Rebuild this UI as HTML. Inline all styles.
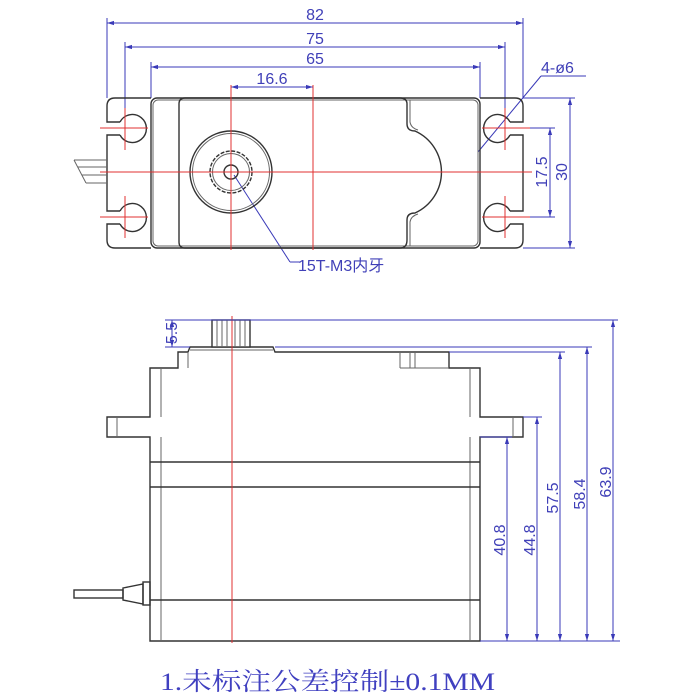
<!DOCTYPE html>
<html><head><meta charset="utf-8"><style>
html,body{margin:0;padding:0;background:#fff;width:700px;height:700px;overflow:hidden}
svg{display:block}
.k{fill:none;stroke:#333;stroke-width:1.4}
.k2{fill:none;stroke:#666;stroke-width:1}
.r{stroke:#e03030;stroke-width:1;fill:none}
.b{stroke:#3a3ab8;stroke-width:1;fill:none}
.t{fill:#4040b8;font-family:"Liberation Sans",sans-serif;font-size:16px}
</style></head><body>
<svg width="700" height="700" viewBox="0 0 700 700" xmlns="http://www.w3.org/2000/svg">
<defs>
<marker id="a" viewBox="0 0 10 10" refX="10" refY="5" markerWidth="7" markerHeight="7" orient="auto-start-reverse"><path d="M0,2 L10,5 L0,8z" fill="#3a3ab8"/></marker>
</defs>
<g class="b">
<line x1="107" y1="18" x2="107" y2="98"/><line x1="523" y1="18" x2="523" y2="98"/>
<line x1="107" y1="23" x2="523" y2="23" marker-start="url(#a)" marker-end="url(#a)"/>
<line x1="125" y1="42" x2="125" y2="115"/><line x1="505" y1="42" x2="505" y2="115"/>
<line x1="125" y1="47" x2="505" y2="47" marker-start="url(#a)" marker-end="url(#a)"/>
<line x1="151" y1="62" x2="151" y2="98"/><line x1="480" y1="62" x2="480" y2="98"/>
<line x1="151" y1="67" x2="480" y2="67" marker-start="url(#a)" marker-end="url(#a)"/>
<line x1="231" y1="87" x2="313" y2="87" marker-start="url(#a)" marker-end="url(#a)"/>
<line x1="523" y1="98" x2="575" y2="98"/><line x1="523" y1="248" x2="575" y2="248"/>
<line x1="570" y1="98" x2="570" y2="248" marker-start="url(#a)" marker-end="url(#a)"/>
<line x1="520" y1="128" x2="555" y2="128"/><line x1="520" y1="217" x2="555" y2="217"/>
<line x1="550" y1="128" x2="550" y2="217" marker-start="url(#a)" marker-end="url(#a)"/>
<line x1="541" y1="76" x2="586" y2="76"/>
<line x1="541" y1="76" x2="478" y2="152"/>
<line x1="234" y1="175" x2="290" y2="262"/><line x1="290" y1="262" x2="300" y2="262"/>
</g>
<text class="t" x="315" y="20" text-anchor="middle">82</text>
<text class="t" x="315" y="44" text-anchor="middle">75</text>
<text class="t" x="315" y="64" text-anchor="middle">65</text>
<text class="t" x="272" y="84" text-anchor="middle">16.6</text>
<text class="t" x="541" y="73">4-ø6</text>
<text class="t" x="298" y="271">15T-M3内牙</text>
<text class="t" transform="translate(547,172) rotate(-90)" text-anchor="middle">17.5</text>
<text class="t" transform="translate(567,172) rotate(-90)" text-anchor="middle">30</text>
<path class="k" d="M151,98 H115 Q107,98 107,106 V122 H120 M120,135 H107 V211 H120 M120,224 H107 V240 Q107,248 115,248 H151"/>
<path class="k" d="M120,122 A14,14 0 1 1 120,135 M120,211 A14,14 0 1 1 120,224"/>
<path class="k" d="M480,98 H515 Q523,98 523,106 V122 H510 M510,135 H523 V211 H510 M510,224 H523 V240 Q523,248 515,248 H480"/>
<path class="k" d="M510,122 A14,14 0 1 0 510,135 M510,211 A14,14 0 1 0 510,224"/>
<g class="k2"><line x1="74" y1="160" x2="107" y2="160"/><line x1="78" y1="167" x2="107" y2="167"/><line x1="82" y1="175" x2="107" y2="175"/><line x1="86" y1="183" x2="107" y2="183"/><line x1="74" y1="160" x2="86" y2="183"/></g>
<rect class="k" x="151" y="98" width="329" height="150" rx="6"/>
<rect class="k2" x="153" y="100" width="325" height="146" rx="5"/>
<path class="k" d="M185,98 Q179,98 179,104 V242 Q179,248 185,248 H400 Q407,248 407,240 V220 Q407,213 415,213 A45,45 0 0 0 415,131 Q407,131 407,124 V104 Q407,98 400,98 Z"/>
<path class="k2" d="M410,100 Q410,110 410,122 Q411,128 418,130 M410,246 Q410,236 410,222 Q411,216 418,214"/>
<circle class="k" cx="231" cy="172" r="41"/><circle class="k2" cx="231" cy="172" r="38.5"/>
<circle class="k" cx="231" cy="172" r="21" stroke-dasharray="4 1.5"/><circle class="k2" cx="231" cy="172" r="18.5"/>
<circle class="k" cx="231" cy="172" r="7"/>
<g class="r">
<line x1="100" y1="172" x2="532" y2="172"/>
<line x1="231" y1="85" x2="231" y2="250"/>
<line x1="313" y1="85" x2="313" y2="250"/>
<line x1="100" y1="128" x2="148" y2="128"/><line x1="100" y1="217" x2="148" y2="217"/>
<line x1="125" y1="108" x2="125" y2="150"/><line x1="125" y1="196" x2="125" y2="238"/>
<line x1="482" y1="128" x2="530" y2="128"/><line x1="482" y1="217" x2="530" y2="217"/>
<line x1="505" y1="108" x2="505" y2="150"/><line x1="505" y1="196" x2="505" y2="238"/>
</g>
<path class="k" d="M150,641 V437 H107 V417 H150 V368 H178 V352 H188 L190,347 H273 L275,352 H449 V368 H480 V417 H523 V437 H480 V641 Z"/>
<g class="k2">
<line x1="161" y1="368" x2="161" y2="417"/><line x1="161" y1="437" x2="161" y2="641"/>
<line x1="470" y1="368" x2="470" y2="417"/><line x1="470" y1="437" x2="470" y2="641"/>
<line x1="117" y1="417" x2="117" y2="437"/><line x1="513" y1="417" x2="513" y2="437"/>
<line x1="400" y1="352" x2="400" y2="368"/><line x1="410" y1="352" x2="410" y2="368"/><line x1="415" y1="352" x2="415" y2="368"/>
<line x1="400" y1="368" x2="449" y2="368"/>
<line x1="188" y1="352" x2="188" y2="368"/>
<line x1="190" y1="350" x2="273" y2="350"/>
</g>
<g class="k">
<line x1="150" y1="462" x2="480" y2="462"/>
<line x1="150" y1="487" x2="480" y2="487"/>
<line x1="150" y1="600" x2="480" y2="600"/>
<rect x="212" y="320" width="38" height="27" fill="#fff"/>
</g>
<g class="k2"><line x1="217" y1="320" x2="217" y2="347"/><line x1="222" y1="320" x2="222" y2="347"/><line x1="227" y1="320" x2="227" y2="347"/><line x1="235" y1="320" x2="235" y2="347"/><line x1="240" y1="320" x2="240" y2="347"/><line x1="245" y1="320" x2="245" y2="347"/></g>
<g class="k"><rect x="74" y="590" width="49" height="8"/><path d="M123,588 L143,584 V604 L123,600 Z"/><rect x="143" y="582" width="7" height="23"/></g>
<line class="r" x1="232" y1="316" x2="232" y2="643"/>
<g class="b">
<line x1="165" y1="320" x2="618" y2="320"/>
<line x1="275" y1="347" x2="592" y2="347"/>
<line x1="449" y1="352" x2="565" y2="352"/>
<line x1="523" y1="417" x2="542" y2="417"/>
<line x1="480" y1="437" x2="512" y2="437"/>
<line x1="480" y1="641" x2="620" y2="641"/>
<line x1="172" y1="320" x2="172" y2="347" marker-start="url(#a)" marker-end="url(#a)"/>
<line x1="165" y1="347" x2="190" y2="347"/>
<line x1="613" y1="320" x2="613" y2="641" marker-start="url(#a)" marker-end="url(#a)"/>
<line x1="587" y1="347" x2="587" y2="641" marker-start="url(#a)" marker-end="url(#a)"/>
<line x1="560" y1="352" x2="560" y2="641" marker-start="url(#a)" marker-end="url(#a)"/>
<line x1="537" y1="417" x2="537" y2="641" marker-start="url(#a)" marker-end="url(#a)"/>
<line x1="507" y1="437" x2="507" y2="641" marker-start="url(#a)" marker-end="url(#a)"/>
</g>
<text class="t" transform="translate(177,333) rotate(-90)" text-anchor="middle">5.5</text>
<text class="t" transform="translate(611,482) rotate(-90)" text-anchor="middle">63.9</text>
<text class="t" transform="translate(585,494) rotate(-90)" text-anchor="middle">58.4</text>
<text class="t" transform="translate(558,498) rotate(-90)" text-anchor="middle">57.5</text>
<text class="t" transform="translate(535,540) rotate(-90)" text-anchor="middle">44.8</text>
<text class="t" transform="translate(505,540) rotate(-90)" text-anchor="middle">40.8</text>
<text x="160" y="690" textLength="335" lengthAdjust="spacingAndGlyphs" style="fill:#4040c0;font-family:'Liberation Serif','Noto Serif CJK SC',serif;font-size:25px">1.未标注公差控制±0.1MM</text>
</svg>
</body></html>
